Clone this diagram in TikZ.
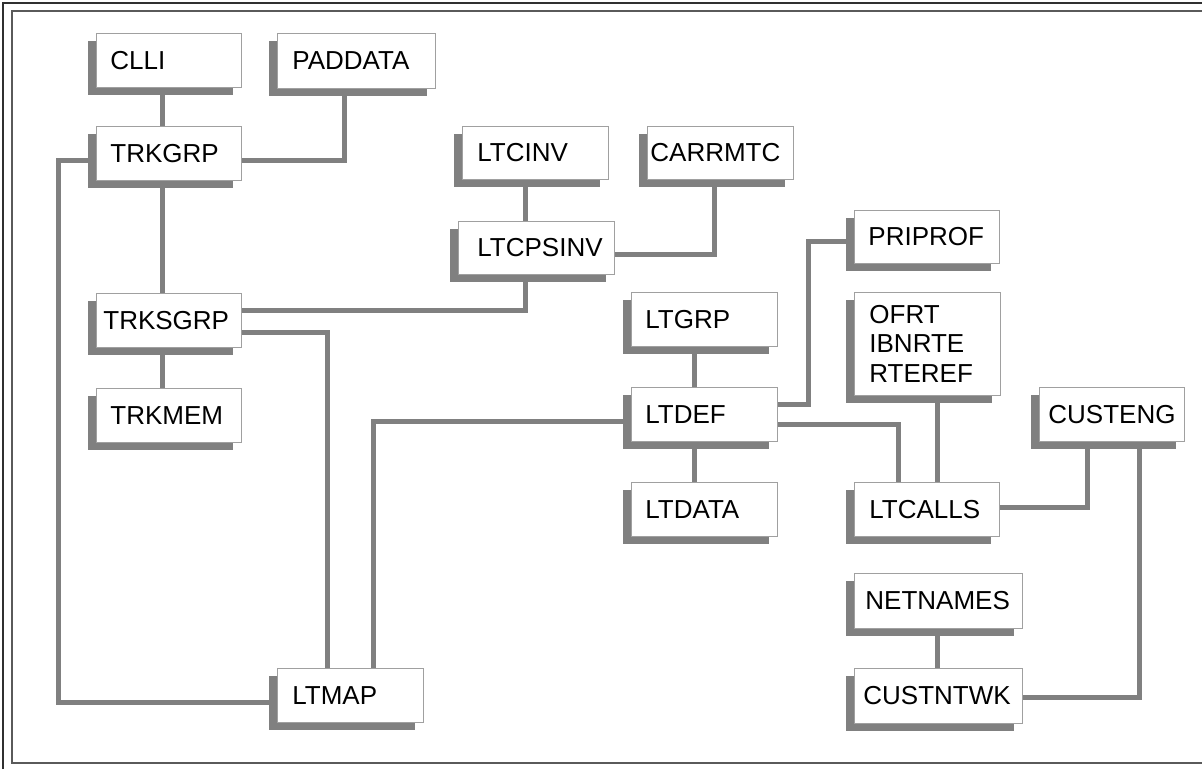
\documentclass[tikz,border=0pt]{standalone}
\usepackage{fontspec}
\setmainfont{Liberation Sans}
\usetikzlibrary{shadows}
\pgfdeclarelayer{canvas}
\pgfdeclarelayer{background}
\pgfsetlayers{canvas,background,main}
\definecolor{linkgray}{HTML}{808080}
\definecolor{edgegray}{HTML}{A0A0A0}
\definecolor{framedark}{HTML}{303030}
\definecolor{framegray}{HTML}{5A5A5A}
\uchyph=0
\hyphenpenalty=10000

\begin{document}
\begin{tikzpicture}[x=1pt,y=-1pt,
  tbl/.style={draw=edgegray, line width=0.8pt, fill=white, anchor=north west,
    minimum height=54pt, inner ysep=0pt, align=left,
    font=\fontsize{26}{29.5}\selectfont,
    drop shadow={shadow xshift=-8pt, shadow yshift=-8pt, fill=linkgray,
      opacity=1, draw=none}},
  link/.style={draw=linkgray, line width=5pt}]
\useasboundingbox (0,0) rectangle (1202,769);
\begin{pgfonlayer}{canvas}
\fill[white] (0,0) rectangle (1202,769);
% double frame
\draw[framedark, line width=1.3pt] (3,769) -- (3,3) -- (1202,3);
\draw[framegray, line width=1.3pt] (1202,11) -- (12,11) -- (12,763) -- (1202,763);
\end{pgfonlayer}

% tables
\node[tbl, text width=117pt, inner xsep=14pt] (clli)     at (96,33)   {CLLI};
\node[tbl, text width=128pt, inner xsep=15pt, minimum height=55pt] (paddata) at (277,33) {PADDATA};
\node[tbl, text width=117pt, inner xsep=14pt] (trkgrp)   at (96,126)  {TRKGRP};
\node[tbl, text width=116pt, inner xsep=15pt, minimum height=53pt] (ltcinv)  at (462,126) {LTCINV};
\node[tbl, text width=140pt, inner xsep=3pt,  minimum height=53pt] (carrmtc) at (647,126) {CARRMTC};
\node[tbl, text width=118pt, inner xsep=19pt, minimum height=53pt] (ltcpsinv) at (458,221) {LTCPSINV};
\node[tbl, text width=117pt, inner xsep=14pt, minimum height=53pt] (priprof) at (854,210) {PRIPROF};
\node[tbl, text width=131pt, inner xsep=7pt]  (trksgrp)  at (96,293)  {TRKSGRP};
\node[tbl, text width=118pt, inner xsep=14pt] (ltgrp)    at (631,292) {LTGRP};
\node[tbl, text width=116pt, inner xsep=15pt, minimum height=103pt] (rte) at (854,292) {OFRT\\IBNRTE\\RTEREF};
\node[tbl, text width=117pt, inner xsep=14pt] (trkmem)   at (96,388)  {TRKMEM};
\node[tbl, text width=118pt, inner xsep=14pt] (ltdef)    at (631,387) {LTDEF};
\node[tbl, text width=127pt, inner xsep=9pt]  (custeng)  at (1039,387) {CUSTENG};
\node[tbl, text width=118pt, inner xsep=14pt] (ltdata)   at (631,482) {LTDATA};
\node[tbl, text width=115pt, inner xsep=15pt] (ltcalls)  at (854,482) {LTCALLS};
\node[tbl, text width=146pt, inner xsep=11pt, minimum height=55pt] (netnames) at (854,573) {NETNAMES};
\node[tbl, text width=150pt, inner xsep=9pt,  minimum height=55pt] (custntwk) at (854,668) {CUSTNTWK};
\node[tbl, text width=116pt, inner xsep=15pt] (ltmap)    at (277,668) {LTMAP};

% connectors run underneath the tables and their shadows
\begin{pgfonlayer}{background}
\draw[link] (clli.south -| 162,0) -- (trkgrp.north -| 162,0);
\draw[link] (paddata.south -| 344,0) |- (trkgrp.east |- 0,160);
\draw[link] (trkgrp.south -| 162,0) -- (trksgrp.north -| 162,0);
\draw[link] (trkgrp.west |- 0,160) -| (58,702) -- (ltmap.west |- 0,702);
\draw[link] (ltcinv.south -| 525,0) -- (ltcpsinv.north -| 525,0);
\draw[link] (carrmtc.south -| 714,0) |- (ltcpsinv.east |- 0,254);
\draw[link] (trksgrp.east |- 0,310) -| (ltcpsinv.south -| 525,0);
\draw[link] (trksgrp.east |- 0,332) -| (ltmap.north -| 327,0);
\draw[link] (trksgrp.south -| 162,0) -- (trkmem.north -| 162,0);
\draw[link] (ltdef.west |- 0,421) -| (ltmap.north -| 373,0);
\draw[link] (ltgrp.south -| 694,0) -- (ltdef.north -| 694,0);
\draw[link] (ltdef.south -| 694,0) -- (ltdata.north -| 694,0);
\draw[link] (priprof.west |- 0,241) -| (808,404) -- (ltdef.east |- 0,404);
\draw[link] (ltdef.east |- 0,424) -| (ltcalls.north -| 898,0);
\draw[link] (rte.south -| 937,0) -- (ltcalls.north -| 937,0);
\draw[link] (ltcalls.east |- 0,507) -| (custeng.south -| 1087,0);
\draw[link] (netnames.south -| 937,0) -- (custntwk.north -| 937,0);
\draw[link] (custntwk.east |- 0,697) -| (custeng.south -| 1139,0);
\end{pgfonlayer}
\end{tikzpicture}
\end{document}
